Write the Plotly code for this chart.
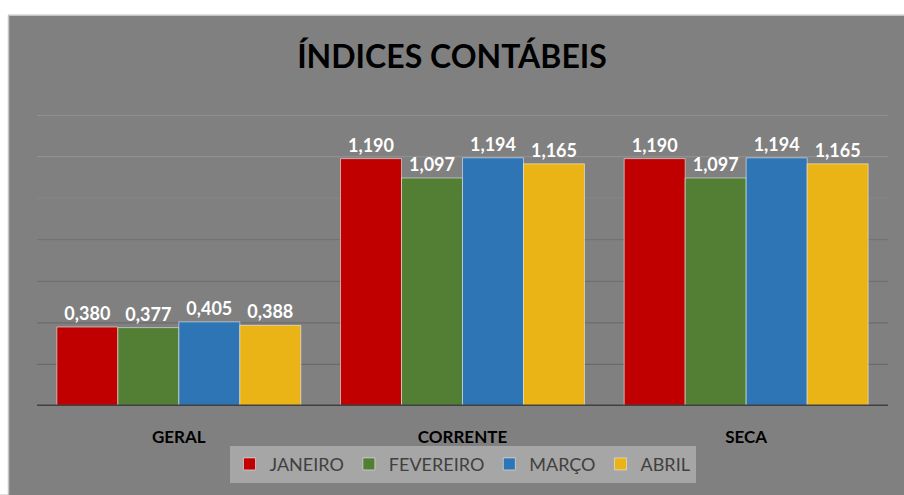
import plotly.graph_objects as go

categories = ["GERAL", "CORRENTE", "SECA"]
series_names = ["JANEIRO", "FEVEREIRO", "MARÇO", "ABRIL"]
janeiro = [0.380, 1.190, 1.190]
fevereiro = [0.377, 1.097, 1.097]
marco = [0.405, 1.194, 1.194]
abril = [0.388, 1.165, 1.165]
grid_values = [0.2, 0.4, 0.6, 0.8, 1.0, 1.2, 1.4]

colors = ["#C00000", "#527F34", "#2E75B6", "#EBB416"]
grid_colors = ["#6a6a6a", "#6c6c6c", "#6f6f6f", "#737373", "#868686", "#8f8f8f", "#969696"]

W, H = 904, 495
L, R, T, B = 37, 16, 115, 85
pw, ph = W - L - R, H - T - B

def px_x(p):
    return (p - L) / pw

def px_y(p):
    return (H - B - p) / ph

fig = go.Figure()
for name, vals, col in zip(series_names, [janeiro, fevereiro, marco, abril], colors):
    fig.add_trace(go.Bar(
        x=categories, y=vals, name=name,
        marker=dict(color=col, line=dict(color="rgba(235,235,235,0.6)", width=1)),
        texttemplate="%{y:.3f}", textposition="outside",
        textfont=dict(family="Lato", size=18, color="white", weight="bold"),
        cliponaxis=False,
    ))

shapes = []
shapes.append(dict(type="rect", xref="paper", yref="paper",
                   x0=px_x(-5), x1=px_x(910), y0=px_y(-5), y1=px_y(14),
                   fillcolor="white", line=dict(width=0), layer="below"))
shapes.append(dict(type="rect", xref="paper", yref="paper",
                   x0=px_x(-5), x1=px_x(8), y0=px_y(500), y1=px_y(-5),
                   fillcolor="white", line=dict(width=0), layer="below"))
shapes.append(dict(type="line", xref="paper", yref="paper",
                   x0=px_x(8.5), x1=px_x(8.5), y0=px_y(14), y1=px_y(500),
                   line=dict(color="#c4c4c4", width=1.5), layer="below"))
shapes.append(dict(type="line", xref="paper", yref="paper",
                   x0=px_x(8), x1=px_x(910), y0=px_y(14), y1=px_y(14),
                   line=dict(color="#c4c4c4", width=1.5), layer="below"))
for gv, gc in zip(grid_values, grid_colors):
    shapes.append(dict(type="line", xref="paper", yref="y",
                       x0=0, x1=1, y0=gv, y1=gv,
                       line=dict(color=gc, width=1.3), layer="below"))
shapes.append(dict(type="line", xref="paper", yref="y",
                   x0=0, x1=1, y0=0, y1=0,
                   line=dict(color="#404040", width=3)))

fig.update_layout(
    width=W, height=H,
    margin=dict(l=L, r=R, t=T, b=B),
    paper_bgcolor="#808080", plot_bgcolor="#808080",
    separators=",.",
    barmode="group", bargap=0.14, bargroupgap=0,
    title=dict(text="ÍNDICES CONTÁBEIS", x=0.5, xanchor="center",
               y=1 - 57 / H, yanchor="middle", yref="container",
               font=dict(family="Lato", size=32, color="black", weight="bold")),
    xaxis=dict(showgrid=False, showline=False, zeroline=False,
               ticks="", ticklabelstandoff=19,
               tickfont=dict(family="Lato", size=17, color="black", weight="bold")),
    yaxis=dict(range=[0, 1.4], showgrid=False, zeroline=False,
               showticklabels=False, showline=False),
    legend=dict(orientation="h", x=0.5, xanchor="center",
                y=px_y(469), yanchor="middle",
                bgcolor="#a6a6a6", itemwidth=30,
                font=dict(family="Lato", size=18, color="#404040"),
                traceorder="normal"),
    shapes=shapes,
)

fig.write_html(
    "out.html",
    config={"displayModeBar": False},
    post_script="document.body.style.margin='0';document.body.style.overflow='hidden';",
)
